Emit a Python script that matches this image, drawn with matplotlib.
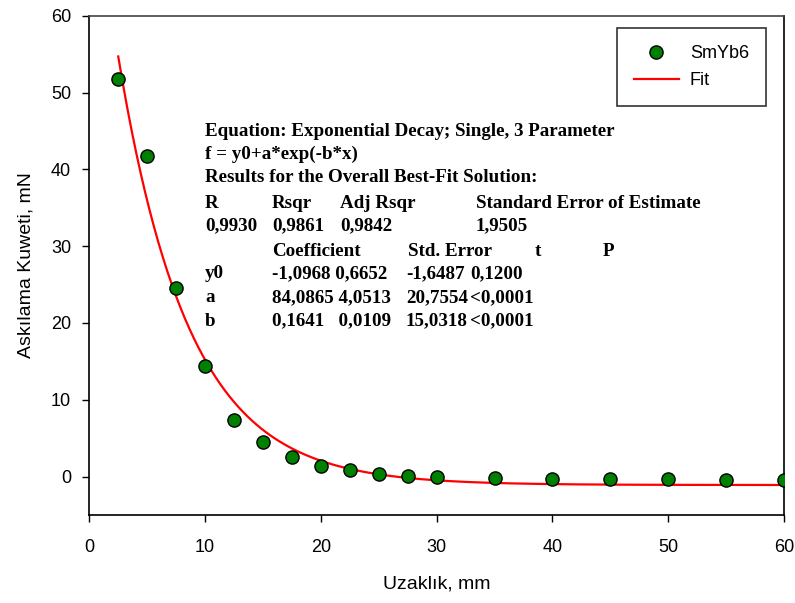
import matplotlib.pyplot as plt
import numpy as np

# measured points (SmYb6)
x_mm = [2.5, 5, 7.5, 10, 12.5, 15, 17.5, 20, 22.5, 25, 27.5, 30, 35, 40, 45, 50, 55, 60]
force_mN = [51.7, 41.7, 24.5, 14.4, 7.4, 4.5, 2.6, 1.4, 0.9, 0.35, 0.1, -0.1,
            -0.2, -0.3, -0.3, -0.35, -0.4, -0.4]

# fit coefficients from the report
y0 = -1.0968
a = 84.0865
b = 0.1641

report_rows = [
    ["Equation: Exponential Decay; Single, 3 Parameter"],
    ["f = y0+a*exp(-b*x)"],
    ["Results for the Overall Best-Fit Solution:"],
    ["R", "Rsqr", "Adj Rsqr", "Standard Error of Estimate"],
    ["0,9930", "0,9861", "0,9842", "1,9505"],
    ["", "Coefficient", "Std. Error", "t", "P"],
    ["y0", "-1,0968 0,6652", "-1,6487", "0,1200"],
    ["a", "84,0865 4,0513", "20,7554", "<0,0001"],
    ["b", "0,1641   0,0109", "15,0318", "<0,0001"],
]
# column x positions in pixels for each row type
col_px = {
    3: [205, 272, 340, 476],
    4: [205, 272, 340, 476],
    5: [205, 272, 408, 535, 603],
    6: [205, 272, 406, 470],
    7: [205, 272, 406, 470],
    8: [205, 272, 406, 470],
}
row_px = [131, 154, 178, 203, 226, 251, 274, 298, 321]

W, H = 795, 603
fig = plt.figure(figsize=(W / 100, H / 100), dpi=100)
ax = fig.add_axes([89.3 / W, 1 - 515 / H, (784 - 89.3) / W, (515 - 15.7) / H])

xf = np.linspace(2.5, 60, 300)
yf = y0 + a * np.exp(-b * xf)

ax.plot(x_mm, force_mN, 'o', color='#008000', markeredgecolor='black',
        markeredgewidth=1, markersize=9.5, label='SmYb6', zorder=3)
ax.plot(xf, yf, '-', color='#ff0000', linewidth=1.6, label='Fit', zorder=2)

ax.set_xlim(0, 60)
ax.set_ylim(-5, 60)
ax.set_xticks(range(0, 61, 10))
ax.set_yticks(range(0, 61, 10))
ax.tick_params(direction='out', length=5, width=1, labelsize=13,
               top=False, right=False)
ax.tick_params(axis='x', pad=12)
ax.tick_params(axis='y', pad=8)
for lab in ax.get_xticklabels() + ax.get_yticklabels():
    lab.set_fontfamily('Liberation Sans')
for s in ax.spines.values():
    s.set_linewidth(1.2)
ax.spines['top'].set_color('#444444')

ax.set_xlabel('Uzaklık, mm', fontsize=14, family='Liberation Sans', labelpad=14)
ax.set_ylabel('Askılama Kuweti, mN', fontsize=14, family='Liberation Sans', labelpad=12)

leg = ax.legend(loc='upper right', bbox_to_anchor=(766 / W, 1 - 28 / H),
                bbox_transform=fig.transFigure, fancybox=False, edgecolor='black',
                prop={'family': 'Liberation Sans', 'size': 13}, handlelength=2.5,
                borderpad=0.95, labelspacing=0.55, handletextpad=0.6, borderaxespad=0)
leg.get_frame().set_linewidth(1.2)

for i, row in enumerate(report_rows):
    xs = col_px.get(i, [205])
    for j, cell in enumerate(row):
        if cell:
            fig.text(xs[j] / W, 1 - row_px[i] / H, cell, ha='left', va='center',
                     family='Liberation Serif', weight='bold', fontsize=13.7)

fig.savefig('out.png', dpi=100)
